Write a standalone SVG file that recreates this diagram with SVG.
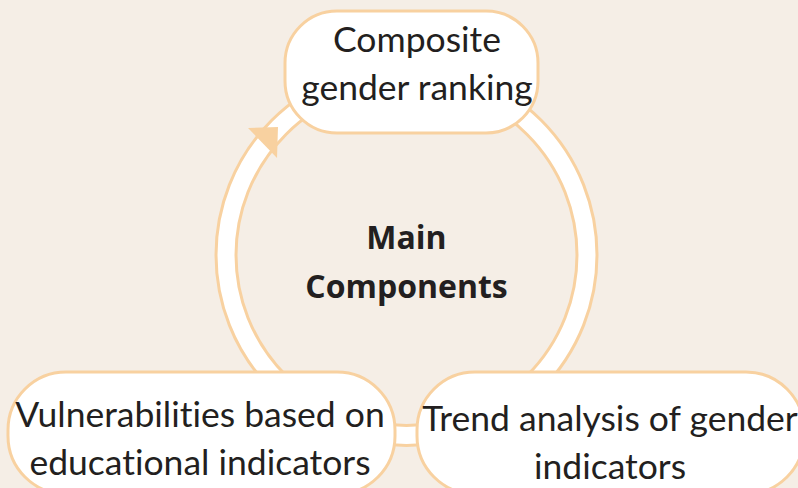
<svg xmlns="http://www.w3.org/2000/svg" width="798" height="488" viewBox="0 0 798 488">
<style>
.node{fill:#ffffff;stroke:#F8D1A0;stroke-width:3}
.lbl{font-family:Lato,"Liberation Sans",sans-serif;font-size:35.5px;fill:#231F20;text-anchor:middle;font-variant-ligatures:none}
.ctr{font-family:"Open Sans","Liberation Sans",sans-serif;font-size:32px;font-weight:bold;fill:#231F20;text-anchor:middle}
</style>
<rect width="798" height="488" fill="#F5EEE6"/>
<g id="connectors">
<circle cx="406.5" cy="255" r="180.5" fill="none" stroke="#F8D1A0" stroke-width="23"/>
<circle cx="406.5" cy="255" r="180.5" fill="none" stroke="#ffffff" stroke-width="17"/>
<polygon points="248,128 278,127 277,158" fill="#F8D1A0"/>
</g>
<text class="ctr" x="406.5" y="249">Main</text>
<text class="ctr" x="406.5" y="298">Components</text>
<g id="node-top">
<rect class="node" x="285" y="11" width="253" height="122" rx="52"/>
<text class="lbl" x="417" y="52">Composite</text>
<text class="lbl" x="417" y="100">gender ranking</text>
</g>
<g id="node-left">
<rect class="node" x="8" y="372" width="387" height="122" rx="58"/>
<text class="lbl" x="200" y="427">Vulnerabilities based on</text>
<text class="lbl" x="200" y="475">educational indicators</text>
</g>
<g id="node-right">
<rect class="node" x="417" y="372" width="387" height="122" rx="58"/>
<text class="lbl" x="610" y="431">Trend analysis of gender</text>
<text class="lbl" x="610" y="479">indicators</text>
</g>
</svg>
